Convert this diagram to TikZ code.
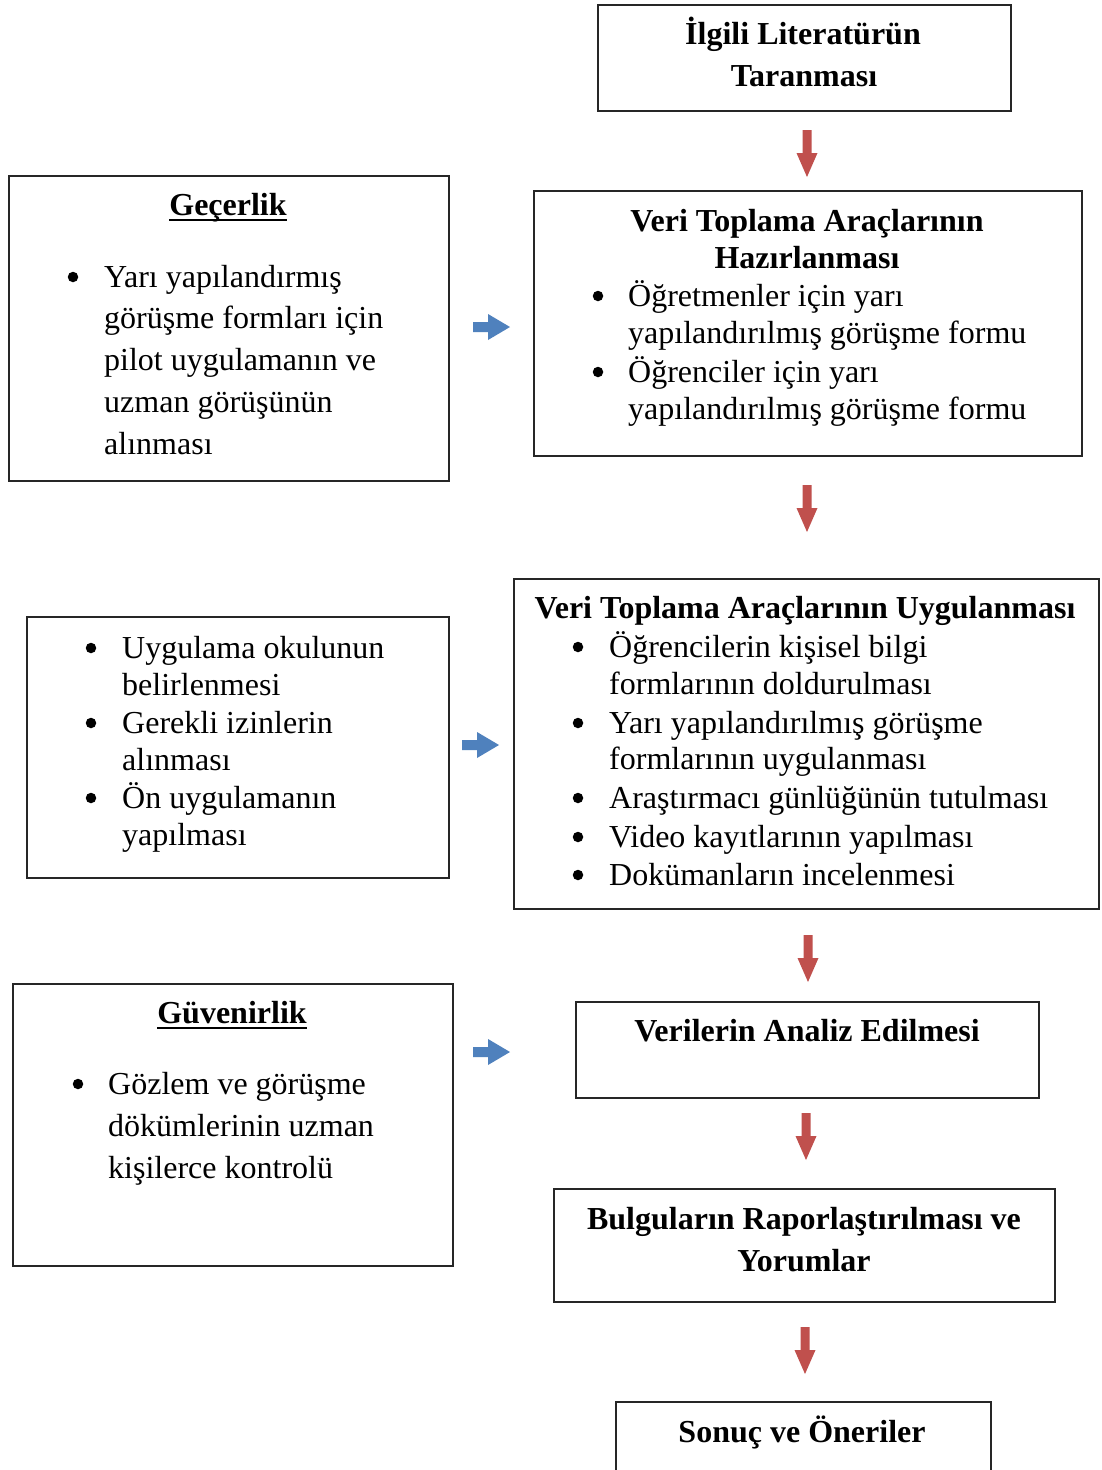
\documentclass[tikz,border=0pt]{standalone}
\usepackage{fontspec}
\setmainfont{Liberation Serif}
\definecolor{framegray}{HTML}{262626}
\definecolor{flowred}{HTML}{C0504D}
\definecolor{flowblue}{HTML}{4F81BD}
\tikzset{
  frame/.style={draw=framegray, line width=2.2pt, inner sep=0pt, anchor=north west},
  body/.style={font=\fontsize{32}{38}\selectfont, inner sep=0pt, anchor=base west},
  head/.style={font=\bfseries\fontsize{32}{38}\selectfont, inner sep=0pt, anchor=base},
  dot/.style={circle, fill=black, inner sep=0pt, minimum size=10.5pt, yshift=10pt},
  uline/.style={line width=2pt},
  pics/downarrow/.style={code={
    \fill[flowred] (-4.5,0) -- (4.5,0) -- (4.5,23) -- (10.5,23) -- (0,47)
      -- (-10.5,23) -- (-4.5,23) -- cycle;}},
  pics/rightarrow/.style={code={
    \fill[flowblue] (0,-5) -- (15,-5) -- (15,-13) -- (37,0) -- (15,13)
      -- (15,5) -- (0,5) -- cycle;}},
}
\begin{document}
\begin{tikzpicture}[x=1pt,y=-1pt]
\useasboundingbox (0,0) rectangle (1101,1470);
\clip (0,0) rectangle (1101,1470);
\fill[white] (0,0) rectangle (1101,1470);

% ---------- frames ----------
\node[frame, minimum width=413pt, minimum height=106pt] (lit)    at (597,4)    {};
\node[frame, minimum width=440pt, minimum height=305pt] (valid)  at (8,175)    {};
\node[frame, minimum width=548pt, minimum height=265pt] (prep)   at (533,190)  {};
\node[frame, minimum width=422pt, minimum height=261pt] (setup)  at (26,616)   {};
\node[frame, minimum width=585pt, minimum height=330pt] (apply)  at (513,578)  {};
\node[frame, minimum width=440pt, minimum height=282pt] (rel)    at (12,983)   {};
\node[frame, minimum width=463pt, minimum height=96pt]  (anal)   at (575,1001) {};
\node[frame, minimum width=501pt, minimum height=113pt] (report) at (553,1188) {};
\node[frame, minimum width=375pt, minimum height=80pt]  (concl)  at (615,1401) {};

% ---------- literature review ----------
\node[head] (lit1) at (803,44) {İlgili Literatürün};
\node[head] (lit2) at (804,86) {Taranması};

% ---------- validity ----------
\node[head] (valh) at (228,215) {Geçerlik};
\draw[uline] ([yshift=-5pt]valh.base west) -- ([yshift=-5pt]valh.base east);
\node[dot]  (valb) at (73,287) {};
\node[body] (val1) at (104,287) {Yarı yapılandırmış};
\node[body] (val2) at (104,328) {görüşme formları için};
\node[body] (val3) at (104,370) {pilot uygulamanın ve};
\node[body] (val4) at (104,412) {uzman görüşünün};
\node[body] (val5) at (104,454) {alınması};

% ---------- preparation of instruments ----------
\node[head] (preh1) at (807,231) {Veri Toplama Araçlarının};
\node[head] (preh2) at (807,268) {Hazırlanması};
\node[dot]  (preb1) at (598,306) {};
\node[body] (pre1)  at (628,306) {Öğretmenler için yarı};
\node[body] (pre2)  at (628,343) {yapılandırılmış görüşme formu};
\node[dot]  (preb2) at (598,382) {};
\node[body] (pre3)  at (628,382) {Öğrenciler için yarı};
\node[body] (pre4)  at (628,419) {yapılandırılmış görüşme formu};

% ---------- setup ----------
\node[dot]  (setb1) at (91,658) {};
\node[body] (set1)  at (122,658) {Uygulama okulunun};
\node[body] (set2)  at (122,695) {belirlenmesi};
\node[dot]  (setb2) at (91,733) {};
\node[body] (set3)  at (122,733) {Gerekli izinlerin};
\node[body] (set4)  at (122,770) {alınması};
\node[dot]  (setb3) at (91,808) {};
\node[body] (set5)  at (122,808) {Ön uygulamanın};
\node[body] (set6)  at (122,845) {yapılması};

% ---------- application of instruments ----------
\node[head] (apph)  at (805,618) {Veri Toplama Araçlarının Uygulanması};
\node[dot]  (appb1) at (578,657) {};
\node[body] (app1)  at (609,657) {Öğrencilerin kişisel bilgi};
\node[body] (app2)  at (609,694) {formlarının doldurulması};
\node[dot]  (appb2) at (578,733) {};
\node[body] (app3)  at (609,733) {Yarı yapılandırılmış görüşme};
\node[body] (app4)  at (609,769) {formlarının uygulanması};
\node[dot]  (appb3) at (578,808) {};
\node[body] (app5)  at (609,808) {Araştırmacı günlüğünün tutulması};
\node[dot]  (appb4) at (578,847) {};
\node[body] (app6)  at (609,847) {Video kayıtlarının yapılması};
\node[dot]  (appb5) at (578,885) {};
\node[body] (app7)  at (609,885) {Dokümanların incelenmesi};

% ---------- reliability ----------
\node[head] (relh) at (232,1023) {Güvenirlik};
\draw[uline] ([yshift=-5pt]relh.base west) -- ([yshift=-5pt]relh.base east);
\node[dot]  (relb) at (78,1094) {};
\node[body] (rel1) at (108,1094) {Gözlem ve görüşme};
\node[body] (rel2) at (108,1136) {dökümlerinin uzman};
\node[body] (rel3) at (108,1178) {kişilerce kontrolü};

% ---------- analysis, reporting, conclusions ----------
\node[head] (anal1) at (807,1041) {Verilerin Analiz Edilmesi};
\node[head] (rep1)  at (804,1229) {Bulguların Raporlaştırılması ve};
\node[head] (rep2)  at (804,1271) {Yorumlar};
\node[head] (con1)  at (802,1442) {Sonuç ve Öneriler};

% ---------- block arrows ----------
\pic at (807,130)  {downarrow};
\pic at (807,485)  {downarrow};
\pic at (808,935)  {downarrow};
\pic at (806,1113) {downarrow};
\pic at (805,1327) {downarrow};
\pic at (473,327)  {rightarrow};
\pic at (462,745)  {rightarrow};
\pic at (473,1052) {rightarrow};
\end{tikzpicture}
\end{document}
